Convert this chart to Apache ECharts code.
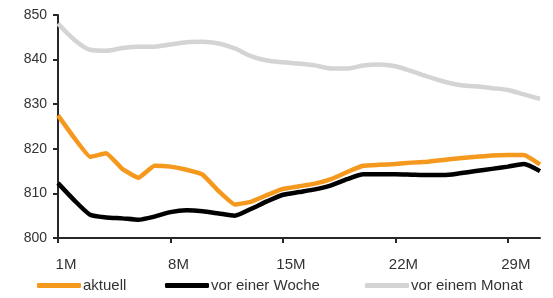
<!DOCTYPE html>
<html>
<head>
<meta charset="utf-8">
<script src="https://cdn.jsdelivr.net/npm/echarts@6/dist/echarts.min.js"></script>
<style>
  html, body { margin: 0; padding: 0; background: #fff; }
  #main { width: 553px; height: 298px; }
</style>
</head>
<body>
<div id="main"></div>
<script>
// Tage im März
var days = []
for (var d = 1; d <= 31; d++) days.push(d + "M")

var aktuell = [827.5, 822.5, 818.2, 819.0, 815.5, 813.5, 816.2, 816.0, 815.3, 814.2, 810.5, 807.5,
  808.1, 809.6, 811.0, 811.6, 812.2, 813.2, 814.8, 816.2, 816.4, 816.6, 816.9, 817.1, 817.5, 817.9,
  818.2, 818.5, 818.6, 818.6, 816.5]
var vorWoche = [812.3, 808.5, 805.2, 804.6, 804.4, 804.1, 804.8, 805.8, 806.2, 806.0, 805.5, 805.0,
  806.5, 808.2, 809.7, 810.3, 810.9, 811.8, 813.2, 814.3, 814.3, 814.3, 814.2, 814.1, 814.1, 814.5,
  815.0, 815.5, 816.0, 816.6, 815.0]
var vorMonat = [848.1, 844.5, 842.2, 842.0, 842.6, 842.9, 842.9, 843.4, 843.9, 844.0, 843.6, 842.5,
  840.8, 839.8, 839.4, 839.1, 838.7, 838.0, 838.0, 838.7, 838.9, 838.5, 837.4, 836.2, 835.1, 834.3,
  834.0, 833.6, 833.2, 832.2, 831.2]

var chart = echarts.init(document.getElementById("main"))
var font = "Liberation Sans, Arial, sans-serif"

function legend(name, left) {
  return {
    data: [name],
    left: left,
    top: 273,
    icon: "roundRect",
    itemWidth: 44,
    itemHeight: 5,
    itemGap: 0,
    selectedMode: false,
    textStyle: { color: "#333", fontSize: 15, fontFamily: font, padding: [0, 0, 0, -3] }
  }
}

var option = {
  animation: false,
  legend: [
    legend("aktuell", 32),
    legend("vor einer Woche", 160),
    legend("vor einem Monat", 360)
  ],
  grid: { left: 58, right: 13, top: 15, bottom: 60 },
  xAxis: {
    type: "category",
    data: days,
    boundaryGap: false,
    axisLine: { lineStyle: { color: "#2a2627", width: 2 } },
    axisTick: { interval: 6, length: 5, lineStyle: { color: "#2a2627", width: 2 } },
    axisLabel: {
      interval: 6,
      color: "#333",
      fontSize: 15,
      fontFamily: font,
      margin: 19,
      padding: [0, 0, 0, 16]
    },
    splitLine: { show: false }
  },
  yAxis: {
    type: "value",
    min: 800,
    max: 850,
    interval: 10,
    axisLine: { show: true, lineStyle: { color: "#2a2627", width: 2 } },
    axisTick: { show: true, length: 5, lineStyle: { color: "#2a2627", width: 2 } },
    axisLabel: { color: "#333", fontSize: 14, fontFamily: font, margin: 11 },
    splitLine: { show: false }
  },
  series: [
    {
      name: "vor einem Monat",
      type: "line",
      data: vorMonat,
      smooth: 0.3,
      showSymbol: false,
      lineStyle: { color: "#d4d4d4", width: 4.5 },
      itemStyle: { color: "#d4d4d4" }
    },
    {
      name: "vor einer Woche",
      type: "line",
      data: vorWoche,
      smooth: 0.2,
      showSymbol: false,
      lineStyle: { color: "#000", width: 4.5 },
      itemStyle: { color: "#000" }
    },
    {
      name: "aktuell",
      type: "line",
      data: aktuell,
      smooth: 0.1,
      showSymbol: false,
      lineStyle: { color: "#f5981e", width: 4.5 },
      itemStyle: { color: "#f5981e" }
    }
  ]
}

chart.setOption(option)
</script>
</body>
</html>
